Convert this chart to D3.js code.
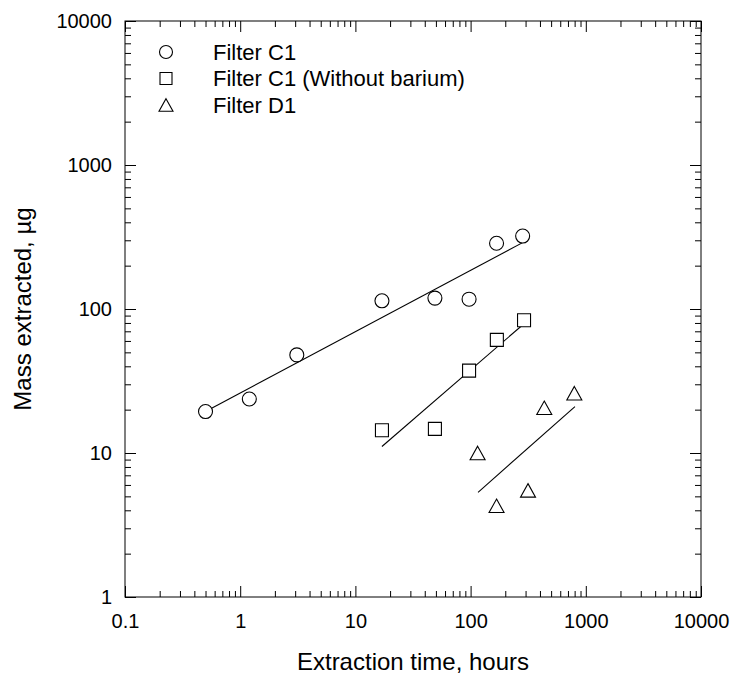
<!DOCTYPE html>
<html>
<head>
  <meta charset="utf-8">
  <script src="https://cdn.jsdelivr.net/npm/d3@7"></script>
  <style>
    body { margin: 0; background: #fff; }
    svg { display: block; font-family: "Liberation Sans", Arial, sans-serif; }
    .tick text { fill: #000; }
  </style>
</head>
<body>
<script>
// data (log-log plot)
var c1Hours = [0.5, 1.2, 3.1, 17, 49, 97, 168, 283];
var c1Mass  = [19.4, 23.7, 48, 114, 119, 117, 286, 321];

var c1nbHours = [17, 49, 97, 169, 291];
var c1nbMass  = [14.4, 14.7, 37.3, 61, 83.5];

var d1Hours = [115, 168, 315, 436, 795];
var d1Mass  = [10, 4.3, 5.5, 20.6, 26];

// fitted lines, endpoints as drawn
var c1FitHours = [0.5, 283],   c1FitMass = [19.4, 289];
var c1nbFitHours = [17, 291],  c1nbFitMass = [11.1, 79];
var d1FitHours = [116, 805],   d1FitMass = [5.33, 21];

var xTicks = [0.1, 1, 10, 100, 1000, 10000];
var xTickLabels = ["0.1", "1", "10", "100", "1000", "10000"];
var yTicks = [1, 10, 100, 1000, 10000];
var yTickLabels = ["1", "10", "100", "1000", "10000"];

var legendNames = ["Filter C1", "Filter C1 (Without barium)", "Filter D1"];

(function () {
  "use strict";
  var width = 735, height = 675;
  var pLeft = 125, pRight = 701, pTop = 21, pBottom = 597;

  var svg = d3.select("body").append("svg")
      .attr("width", width)
      .attr("height", height);

  var x = d3.scaleLog().domain([0.1, 10000]).range([pLeft, pRight]);
  var y = d3.scaleLog().domain([1, 10000]).range([pBottom, pTop]);

  function minors(lo, hi) {
    var out = [];
    for (var p = lo; p < hi; p *= 10)
      for (var k = 2; k <= 9; k++) out.push(p * k);
    return out;
  }
  var xMinor = minors(0.1, 10000), yMinor = minors(1, 10000);

  function strip(g) {
    g.select(".domain").remove();
    g.selectAll(".tick line").attr("stroke", "#000");
  }

  /* axes: major + minor ticks on all four sides, pointing in */
  svg.append("g").attr("transform", "translate(0," + pBottom + ")")
    .call(d3.axisBottom(x).tickValues(xTicks).tickFormat(function (d, i) { return xTickLabels[i]; })
          .tickSize(-11).tickPadding(17))
    .call(strip)
    .selectAll("text").attr("font-size", 20);
  svg.append("g").attr("transform", "translate(0," + pBottom + ")")
    .call(d3.axisBottom(x).tickValues(xMinor).tickFormat("").tickSize(-6)).call(strip);
  svg.append("g").attr("transform", "translate(0," + pTop + ")")
    .call(d3.axisTop(x).tickValues(xTicks).tickFormat("").tickSize(-11)).call(strip);
  svg.append("g").attr("transform", "translate(0," + pTop + ")")
    .call(d3.axisTop(x).tickValues(xMinor).tickFormat("").tickSize(-6)).call(strip);

  svg.append("g").attr("transform", "translate(" + pLeft + ",0)")
    .call(d3.axisLeft(y).tickValues(yTicks).tickFormat(function (d, i) { return yTickLabels[i]; })
          .tickSize(-11).tickPadding(13))
    .call(strip)
    .selectAll("text").attr("font-size", 20);
  svg.append("g").attr("transform", "translate(" + pLeft + ",0)")
    .call(d3.axisLeft(y).tickValues(yMinor).tickFormat("").tickSize(-6)).call(strip);
  svg.append("g").attr("transform", "translate(" + pRight + ",0)")
    .call(d3.axisRight(y).tickValues(yTicks).tickFormat("").tickSize(-11)).call(strip);
  svg.append("g").attr("transform", "translate(" + pRight + ",0)")
    .call(d3.axisRight(y).tickValues(yMinor).tickFormat("").tickSize(-6)).call(strip);

  svg.selectAll(".tick text").attr("font-family", null);

  svg.append("rect")
    .attr("x", pLeft).attr("y", pTop)
    .attr("width", pRight - pLeft).attr("height", pBottom - pTop)
    .attr("fill", "none").attr("stroke", "#000").attr("stroke-width", 1);

  /* axis titles */
  svg.append("text")
    .attr("x", (pLeft + pRight) / 2).attr("y", 670)
    .attr("text-anchor", "middle").attr("font-size", 24)
    .text("Extraction time, hours");
  svg.append("text")
    .attr("transform", "translate(31," + (pTop + pBottom) / 2 + ") rotate(-90)")
    .attr("text-anchor", "middle").attr("font-size", 24)
    .text("Mass extracted, \u00b5g");

  /* fit lines */
  var line = d3.line().x(function (d) { return x(d[0]); }).y(function (d) { return y(d[1]); });
  [[c1FitHours, c1FitMass], [c1nbFitHours, c1nbFitMass], [d1FitHours, d1FitMass]].forEach(function (f) {
    svg.append("path")
      .datum(d3.zip(f[0], f[1]))
      .attr("d", line)
      .attr("fill", "none").attr("stroke", "#000").attr("stroke-width", 1.1);
  });

  /* marker shapes */
  function circlePath(s) { return "M" + (-s) + ",0A" + s + "," + s + " 0 1,0 " + s + ",0A" + s + "," + s + " 0 1,0 " + (-s) + ",0Z"; }
  function squarePath(s) { return "M" + (-s) + "," + (-s) + "H" + s + "V" + s + "H" + (-s) + "Z"; }
  function trianglePath(s) { return "M0," + (-s * 0.9) + "L" + s + "," + (s * 0.9) + "H" + (-s) + "Z"; }

  var series = [
    { hours: c1Hours, mass: c1Mass, path: circlePath(7) },
    { hours: c1nbHours, mass: c1nbMass, path: squarePath(6.5) },
    { hours: d1Hours, mass: d1Mass, path: trianglePath(7.5) }
  ];
  series.forEach(function (s) {
    svg.append("g").selectAll("path")
      .data(d3.zip(s.hours, s.mass))
      .enter().append("path")
        .attr("transform", function (d) { return "translate(" + x(d[0]) + "," + y(d[1]) + ")"; })
        .attr("d", s.path)
        .attr("fill", "#fff").attr("stroke", "#000").attr("stroke-width", 1.1);
  });

  /* legend */
  var legendPaths = [circlePath(6.5), squarePath(6), trianglePath(7)];
  var lg = svg.append("g");
  legendNames.forEach(function (name, i) {
    var cy = 52 + i * 26.5;
    lg.append("path")
      .attr("transform", "translate(166," + cy + ")")
      .attr("d", legendPaths[i])
      .attr("fill", "#fff").attr("stroke", "#000").attr("stroke-width", 1.1);
    lg.append("text")
      .attr("x", 213).attr("y", cy + 7.5)
      .attr("font-size", 22)
      .text(name);
  });
})();
</script>
</body>
</html>
